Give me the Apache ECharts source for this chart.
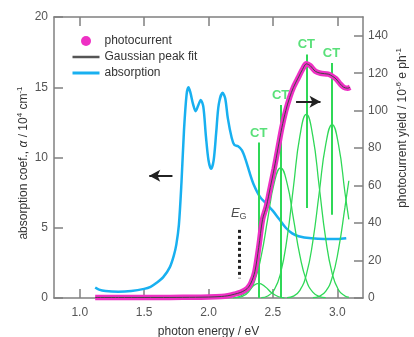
<!DOCTYPE html>
<html><head><meta charset="utf-8">
<script src="https://cdn.jsdelivr.net/npm/echarts@6/dist/echarts.min.js"></script>
<style>html,body{margin:0;padding:0;background:#fff}#c{width:414px;height:337px}</style>
</head><body><div id="c"></div>
<script>
// ---- data ----
const xTickValues = [1.0, 1.5, 2.0, 2.5, 3.0];
const leftTickValues = [0, 5, 10, 15, 20];
const rightTickValues = [0, 20, 40, 60, 80, 100, 120, 140];

const absEnergy = [1.12,1.15,1.2,1.3,1.4,1.5,1.55,1.6,1.65,1.7,1.73,1.75,1.77,1.79,1.81,1.83,1.845,1.86,1.88,1.9,1.92,1.94,1.96,1.98,2.0,2.02,2.04,2.06,2.08,2.11,2.13,2.15,2.18,2.2,2.23,2.26,2.29,2.32,2.35,2.4,2.45,2.5,2.55,2.6,2.65,2.7,2.8,2.9,3.0,3.07];
const absCoef   = [0.75,0.6,0.5,0.45,0.5,0.65,0.8,1.1,1.5,2.2,3.0,3.8,5.2,8.2,12.0,14.5,15.0,14.6,13.8,13.3,13.7,14.1,13.6,11.5,9.8,9.2,9.8,11.8,13.8,14.6,14.2,12.8,11.4,10.9,10.8,10.5,9.8,8.9,8.1,7.2,6.7,6.2,5.6,5.0,4.6,4.4,4.25,4.2,4.2,4.25];

const pcEnergy = [1.12,1.3,1.5,1.7,1.9,2.0,2.1,2.15,2.2,2.25,2.3,2.33,2.36,2.39,2.42,2.45,2.48,2.51,2.54,2.57,2.6,2.63,2.66,2.7,2.73,2.76,2.79,2.83,2.87,2.93,2.96,2.99,3.02,3.05,3.08,3.1];
const pcYield  = [0.3,0.3,0.3,0.3,0.4,0.5,0.8,1.2,2,3,5,8,14,27,42,49,59,69,80,91,100,107,112.5,118,122,125,124,121,120,119.5,118.5,117,114.5,112.5,112,112.5];

const fitEnergy = [1.12,1.3,1.5,1.7,1.9,2.0,2.1,2.15,2.2,2.25,2.3,2.33,2.36,2.39,2.42,2.45,2.48,2.51,2.54,2.57,2.6,2.63,2.66,2.7,2.73,2.76,2.79,2.83,2.87,2.93,2.96,2.99,3.02,3.05,3.08,3.1];
const fitYield  = [0.3,0.3,0.3,0.3,0.4,0.5,0.8,1.2,2,3,5,8,14,27,42,49,59,69,80,91,100,107,112.5,118,122,125,124,121,120,119.5,118.5,117,114.5,112.5,112,112.5];

const g1Energy = [2.19,2.24,2.29,2.34,2.39,2.44,2.49,2.54,2.59];
const g1Yield  = [0.1,0.8,2.8,6.0,7.8,6.0,2.8,0.8,0.1];
const g2Energy = [2.21,2.26,2.31,2.36,2.41,2.46,2.51,2.56,2.61,2.66,2.71,2.76,2.81,2.86,2.91];
const g2Yield  = [0.2,0.8,3.1,9.4,22.6,42.2,61.3,69.5,61.3,42.2,22.6,9.4,3.1,0.8,0.2];
const g3Energy = [2.41,2.46,2.51,2.56,2.61,2.66,2.71,2.76,2.81,2.86,2.91,2.96,3.01,3.06,3.09];
const g3Yield  = [0.2,1.1,4.3,13.3,31.8,59.4,86.5,98,86.5,59.4,31.8,13.3,4.3,1.1,0.4];
const g4Energy = [2.61,2.66,2.71,2.76,2.81,2.86,2.91,2.96,3.01,3.06,3.09];
const g4Yield  = [0.2,1.0,4.1,12.5,30.1,56.2,81.7,92.6,81.7,56.2,42];
const g5Energy = [2.81,2.86,2.91,2.96,3.01,3.06,3.09];
const g5Yield  = [0.2,0.9,3.5,10.8,26,48.5,62.6];

const ctEnergy = [2.39, 2.56, 2.76, 2.955];
const ctTop    = [83, 103, 130, 125.5];
const ctBottom = [0, 0, 48, 44.5];

// annotation anchors (data units)
const leftArrow  = [[1.72, 8.7], [1.54, 8.7]];     // absorption axis
const rightArrow = [[2.68, 104.8], [2.87, 104.8]]; // photocurrent axis
const egLine     = [[2.24, 4.85], [2.24, 1.4]];    // absorption axis
const egLabel    = [2.235, 6.0];

// ---- chart ----
const zip = (a, b) => a.map((v, i) => [v, b[i]]);
const FONT = 'Liberation Sans, Arial, sans-serif';
const AX = '#808080';
const GREEN = '#2fd857';
const MAG = '#ee30c4';
const BLUE = '#18b0f0';

const chart = echarts.init(document.getElementById('c'), null, {renderer: 'canvas'});

function gauss(name, e, y) {
  return {name, type: 'line', xAxisIndex: 0, yAxisIndex: 1, data: zip(e, y),
    smooth: true, showSymbol: false, symbol: 'none', silent: true,
    lineStyle: {color: GREEN, width: 1.3}, itemStyle: {color: GREEN}, z: 3};
}

chart.setOption({
  animation: false,
  textStyle: {fontFamily: FONT},
  grid: {left: 54, right: 51, top: 17, bottom: 39, containLabel: false, outerBoundsMode: 'none'},
  legend: {
    left: 66, top: 30, orient: 'vertical', itemWidth: 27, itemHeight: 10, itemGap: 4,
    textStyle: {fontFamily: FONT, fontSize: 12, color: '#333'},
    data: [
      {name: 'photocurrent', icon: 'circle', itemStyle: {color: MAG}},
      {name: 'Gaussian peak fit', lineStyle: {width: 2.5, color: '#555'}, itemStyle: {opacity: 0, color: 'transparent', borderWidth: 0}},
      {name: 'absorption', lineStyle: {width: 3, color: BLUE}, itemStyle: {opacity: 0, color: 'transparent', borderWidth: 0}}
    ],
    selectedMode: false
  },
  xAxis: [
    {type: 'value', position: 'bottom', min: 0.8, max: 3.2,
     name: 'photon energy / eV', nameLocation: 'middle', nameGap: 28,
     nameTextStyle: {fontFamily: FONT, fontSize: 12, color: '#333'},
     axisLine: {show: true, onZero: false, lineStyle: {color: AX, width: 1.5}},
     axisTick: {show: true, inside: true, length: 9, customValues: xTickValues, lineStyle: {color: AX, width: 1.5}},
     axisLabel: {show: true, customValues: xTickValues, margin: 9, fontSize: 12, color: '#555', fontFamily: FONT,
                 formatter: v => Number(v).toFixed(1)},
     splitLine: {show: false}},
    {type: 'value', position: 'top', min: 0.8, max: 3.2,
     axisLine: {show: true, onZero: false, lineStyle: {color: AX, width: 1.5}},
     axisTick: {show: true, inside: true, length: 9, customValues: xTickValues, lineStyle: {color: AX, width: 1.5}},
     axisLabel: {show: false}, splitLine: {show: false}}
  ],
  yAxis: [
    {type: 'value', position: 'left', min: 0, max: 20, interval: 5,
     axisLine: {show: true, onZero: false, lineStyle: {color: AX, width: 1.5}},
     axisTick: {show: true, inside: true, length: 9, customValues: leftTickValues, lineStyle: {color: AX, width: 1.5}},
     axisLabel: {show: true, customValues: leftTickValues, margin: 6, fontSize: 12, color: '#555', fontFamily: FONT},
     splitLine: {show: false}},
    {type: 'value', position: 'right', min: 0, max: 150,
     axisLine: {show: true, onZero: false, lineStyle: {color: AX, width: 1.5}},
     axisTick: {show: true, inside: true, length: 9, customValues: rightTickValues, lineStyle: {color: AX, width: 1.5}},
     axisLabel: {show: true, customValues: rightTickValues, margin: 5, fontSize: 12, color: '#555', fontFamily: FONT},
     splitLine: {show: false}}
  ],
  graphic: [
    {type: 'text', x: 24, y: 163, rotation: Math.PI / 2,
     style: {text: 'absorption coef., {i|α} / 10{s|4} cm{s|-1}', align: 'center', verticalAlign: 'middle',
             fill: '#333', font: '12px ' + FONT,
             rich: {i: {fontStyle: 'italic', fontSize: 12, fontFamily: FONT, fill: '#333'},
                    s: {fontSize: 8, fontFamily: FONT, fill: '#333', verticalAlign: 'top', lineHeight: 16}}}},
    {type: 'text', x: 403, y: 128, rotation: Math.PI / 2,
     style: {text: 'photocurrent yield / 10{s|-6} e ph{s|-1}', align: 'center', verticalAlign: 'middle',
             fill: '#333', font: '12px ' + FONT,
             rich: {s: {fontSize: 8, fontFamily: FONT, fill: '#333', verticalAlign: 'top', lineHeight: 16}}}}
  ],
  series: [
    {name: 'absorption', type: 'line', xAxisIndex: 0, yAxisIndex: 0, data: zip(absEnergy, absCoef),
     smooth: 0.3, showSymbol: false, symbol: 'none', lineStyle: {color: BLUE, width: 2.5}, itemStyle: {color: BLUE}, z: 2,
     markLine: {silent: true, symbol: ['none', 'arrow'], symbolSize: [9, 11], label: {show: false},
       lineStyle: {color: '#222', width: 2, type: 'solid'},
       data: [[{coord: leftArrow[0]}, {coord: leftArrow[1]}]]}},
    gauss('G1', g1Energy, g1Yield),
    gauss('G2', g2Energy, g2Yield),
    gauss('G3', g3Energy, g3Yield),
    gauss('G4', g4Energy, g4Yield),
    gauss('G5', g5Energy, g5Yield),
    {name: 'CT', type: 'scatter', xAxisIndex: 0, yAxisIndex: 1, data: zip(ctEnergy, ctTop),
     symbolSize: 0.1, itemStyle: {color: GREEN}, silent: true, z: 4,
     label: {show: true, formatter: 'CT', position: 'top', distance: 3, color: GREEN, fontWeight: 'bold', fontSize: 13, fontFamily: FONT},
     markLine: {silent: true, symbol: 'none', label: {show: false}, lineStyle: {color: GREEN, width: 2, type: 'solid'},
       data: ctEnergy.map((x, i) => [{coord: [x, ctBottom[i]]}, {coord: [x, ctTop[i]]}])}},
    {name: 'photocurrent', type: 'line', xAxisIndex: 0, yAxisIndex: 1, data: zip(pcEnergy, pcYield),
     smooth: 0.3, showSymbol: false, symbol: 'none', clip: false,
     lineStyle: {color: MAG, width: 5.5}, itemStyle: {color: MAG}, z: 5,
     markLine: {silent: true, symbol: ['none', 'arrow'], symbolSize: [9, 11], label: {show: false},
       lineStyle: {color: '#222', width: 2, type: 'solid'},
       data: [[{coord: rightArrow[0]}, {coord: rightArrow[1]}]]}},
    {name: 'Gaussian peak fit', type: 'line', xAxisIndex: 0, yAxisIndex: 1, data: zip(fitEnergy, fitYield),
     smooth: 0.3, showSymbol: false, symbol: 'none', clip: false,
     lineStyle: {color: '#444', width: 1}, itemStyle: {color: '#555'}, z: 6},
    {name: 'Eg', type: 'scatter', xAxisIndex: 0, yAxisIndex: 0, data: [egLabel], symbolSize: 0.1, silent: true, z: 7,
     itemStyle: {color: '#333'},
     label: {show: true, position: 'inside', formatter: '{e|E}{g|G}',
       rich: {e: {fontStyle: 'italic', fontSize: 13, color: '#222', fontFamily: FONT},
              g: {fontSize: 9, color: '#222', fontFamily: FONT, verticalAlign: 'bottom', padding: [6, 0, 0, 0]}}},
     markLine: {silent: true, symbol: 'none', label: {show: false},
       lineStyle: {color: '#222', width: 3, type: [3, 3]},
       data: [[{coord: egLine[0]}, {coord: egLine[1]}]]}}
  ]
});
</script></body></html>
